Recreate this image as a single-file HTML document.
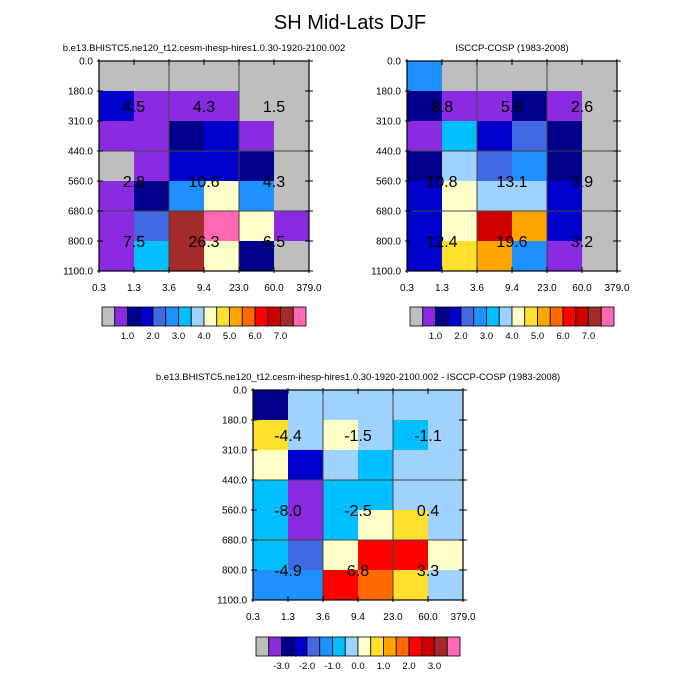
<!DOCTYPE html>
<html><head><meta charset="utf-8"><style>
body{margin:0;background:#fff;}
svg{display:block;font-family:"Liberation Sans",sans-serif;}
</style></head><body>
<svg id="c" width="700" height="700" xmlns="http://www.w3.org/2000/svg">
<rect width="700" height="700" fill="#fff"/>
<text x="350" y="29" font-size="20" text-anchor="middle">SH Mid-Lats DJF</text>
</svg>
<script>
const colors = ["#BEBEBE","#8A2BE2","#00008B","#0000CD","#4169E1","#1E90FF","#00BFFF","#A0D2FF","#FFFFC8","#FFE12D","#FFA500","#FF6A00","#FF0000","#CD0000","#A52A2A","#FF69B4"];
const xTicks = ["0.3","1.3","3.6","9.4","23.0","60.0","379.0"];
const yTicks = ["0.0","180.0","310.0","440.0","560.0","680.0","800.0","1100.0"];
const grid1 = [[0,0,0,0,0,0],[3,1,1,1,0,0],[1,1,2,3,1,0],[0,1,3,3,2,0],[1,2,5,8,5,0],[1,4,14,15,8,1],[1,6,14,8,2,0]];
const grid2 = [[5,0,0,0,0,0],[2,1,1,2,1,0],[1,6,3,4,2,0],[2,7,4,5,2,0],[3,8,7,7,3,0],[3,8,13,10,3,0],[3,9,10,5,1,0]];
const grid3 = [[2,7,7,7,7,7],[9,7,8,7,6,7],[8,3,7,6,7,7],[6,1,6,6,7,7],[6,1,6,8,9,7],[6,4,8,12,12,8],[5,5,12,11,9,7]];
const vals1 = ["4.5","4.3","1.5","2.8","10.6","4.3","7.5","26.3","6.5"];
const vals2 = ["8.8","5.9","2.6","10.8","13.1","3.9","12.4","19.6","3.2"];
const vals3 = ["-4.4","-1.5","-1.1","-8.0","-2.5","0.4","-4.9","6.8","3.3"];
const cbLabels1 = ["1.0","2.0","3.0","4.0","5.0","6.0","7.0"];
const cbLabels3 = ["-3.0","-2.0","-1.0","0.0","1.0","2.0","3.0"];

const svg = document.getElementById('c');
const NS = "http://www.w3.org/2000/svg";
function mk(tag, attrs, parent){const e=document.createElementNS(NS,tag);for(const k in attrs)e.setAttribute(k,attrs[k]);(parent||svg).appendChild(e);return e;}

function panel(x0,y0,w,h,grid,vals,title,titleY,cbx,cby,cbw,cbh,cbLabels,name){
  const g=mk('g',{});
  
  
  const nr=grid.length,nc=grid[0].length,cw=w/nc,ch=h/nr;
  const xs=i=>x0+i*cw, ys=j=>y0+j*ch;
  const t=mk('text',{x:x0+w/2,y:titleY,'font-size':9.5,'text-anchor':'middle'},g);
  t.textContent=title;
  
  
  for(let r=0;r<nr;r++)for(let c=0;c<nc;c++){
    const cell=mk('rect',{x:xs(c),y:ys(r),width:cw+0.5,height:ch+0.5,fill:colors[grid[r][c]]},g);
    
    
  }
  [2,4].forEach(i=>{mk('line',{x1:xs(i),x2:xs(i),y1:y0,y2:y0+h,stroke:'#444','stroke-width':1},g);});
  [3,5].forEach(j=>{mk('line',{x1:x0,x2:x0+w,y1:ys(j),y2:ys(j),stroke:'#444','stroke-width':1},g);});
  mk('rect',{x:x0,y:y0,width:w,height:h,fill:'none',stroke:'#000','stroke-width':1.2},g);
  xTicks.forEach((l,i)=>{
    const x=x0+i*w/(xTicks.length-1);
    mk('line',{x1:x,x2:x,y1:y0+h-4,y2:y0+h+2,stroke:'#000'},g);
    mk('line',{x1:x,x2:x,y1:y0-2,y2:y0+4,stroke:'#000'},g);
    const tl=mk('text',{x:x,y:y0+h+20,'font-size':10,'text-anchor':'middle'},g);
    tl.textContent=l;
    
    
  });
  yTicks.forEach((l,j)=>{
    const y=ys(j);
    mk('line',{x1:x0-2,x2:x0+4,y1:y,y2:y,stroke:'#000'},g);
    mk('line',{x1:x0+w-4,x2:x0+w+4,y1:y,y2:y,stroke:'#000'},g);
    const tl=mk('text',{x:x0-6,y:y+3.5,'font-size':10,'text-anchor':'end'},g);
    tl.textContent=l;
    
    
  });
  const lx=[1,3,5], ly=[1.5,4,6];
  vals.forEach((v,k)=>{
    const tv=mk('text',{x:xs(lx[k%3]),y:ys(ly[Math.floor(k/3)])+6,'font-size':16,'text-anchor':'middle'},g);
    tv.textContent=v;
    
    
  });
  const bw=cbw/colors.length;
  colors.forEach((col,i)=>{
    const b=mk('rect',{x:cbx+i*bw,y:cby,width:bw,height:cbh,fill:col,stroke:'#000','stroke-width':0.8},g);
    
    
  });
  cbLabels.forEach((l,i)=>{
    const tl=mk('text',{x:cbx+(2+2*i)*bw,y:cby+cbh+13,'font-size':9.5,'text-anchor':'middle'},g);
    tl.textContent=l;
    
    
  });
}
panel(99,61,210,210,grid1,vals1,"b.e13.BHISTC5.ne120_t12.cesm-ihesp-hires1.0.30-1920-2100.002",51,102,307,204,19,cbLabels1,'model-panel');
panel(407,61,210,210,grid2,vals2,"ISCCP-COSP (1983-2008)",51,410,307,204,19,cbLabels1,'obs-panel');
panel(253,390,210,210,grid3,vals3,"b.e13.BHISTC5.ne120_t12.cesm-ihesp-hires1.0.30-1920-2100.002 - ISCCP-COSP (1983-2008)",380,256,637,204,19,cbLabels3,'difference-panel');
</script>
</body></html>
